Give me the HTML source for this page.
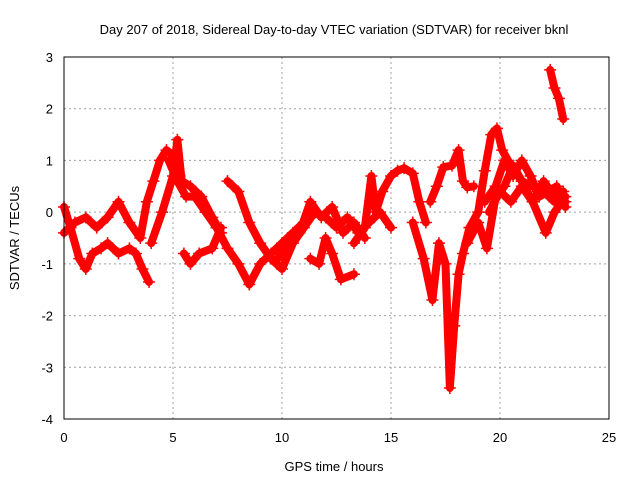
<!DOCTYPE html>
<html><head><meta charset="utf-8"><style>
body{margin:0;background:#fff;}
svg text{font-family:"Liberation Sans",sans-serif;font-size:13px;fill:#000;}
</style></head><body>
<svg id="chart" width="640" height="480">
<text x="334" y="34" text-anchor="middle">Day 207 of 2018, Sidereal Day-to-day VTEC variation (SDTVAR) for receiver bknl</text>
<text x="334" y="471" text-anchor="middle">GPS time / hours</text>
<text transform="translate(19,238) rotate(-90)" text-anchor="middle">SDTVAR / TECUs</text>
<g id="grid"></g><g id="ticks"></g><g id="marks"></g>
<rect x="64" y="57" width="545" height="362" fill="none" stroke="#000" stroke-width="1"/>
</svg>
<script>
const xTicks=[0,5,10,15,20,25];
const yTicks=[3,2,1,0,-1,-2,-3,-4];
const trackTimes=[
[0,0.3,0.7,1.0,1.3,1.7,2.0,2.5,3.0,3.3,3.6,3.9],
[0,0.5,1.0,1.5,2.0,2.5,3.0,3.5,3.8,4.1,4.4,4.7,5.0,5.3],
[4.0,4.5,5.0,5.2,5.4,5.8,6.3,6.8,7.2],
[4.8,5.2,5.6,6.0,6.5,7.0,7.5,8.0,8.5,9.0,9.5,10,10.5,11],
[5.5,5.8,6.2,6.8,7.2],
[7.5,8.0,8.5,9,9.5,10,10.5,11,11.5,12,12.5,13,13.5,14,14.5,15],
[11.3,11.7,12.0,12.3,12.7,13.3],
[13.3,13.8,14.1,14.3,14.6,15.0,15.3,15.6,16.0,16.3,16.6],
[16.0,16.5,16.9,17.2,17.5,17.7,17.9,18.1,18.3,18.6],
[16.8,17.1,17.4,17.8,18.1,18.3,18.5,18.8],
[18.6,19.0,19.3,19.6,19.86,20.1,20.5,21.0,21.5,22.0,22.5,23.0],
[18.5,19.0,19.4,19.8,20.2,20.6,21.0,21.5,22.1,22.5,23.0],
[22.3,22.5,22.7,22.9],
[19.3,19.8,20.2,20.6,21.0,21.4,21.8,22.2,22.6,23],
[9.8,10.3,10.8,11.3,11.8,12.3,12.8,13.3,13.8],
[19.5,20.0,20.5,21.0,21.5,22.0,22.5,22.9]];
const trackValues=[
[0.1,-0.3,-0.9,-1.1,-0.8,-0.7,-0.6,-0.8,-0.7,-0.8,-1.1,-1.35],
[-0.4,-0.2,-0.1,-0.3,-0.1,0.2,-0.2,-0.5,0.2,0.6,1.0,1.2,1.1,0.7],
[-0.6,0.0,0.7,1.4,0.6,0.5,0.3,-0.1,-0.4],
[1.0,0.6,0.3,0.3,0.0,-0.3,-0.7,-1.0,-1.4,-1.0,-0.8,-0.6,-0.4,-0.2],
[-0.8,-1.0,-0.8,-0.7,-0.3],
[0.6,0.4,-0.2,-0.6,-0.9,-1.1,-0.6,-0.3,0.0,-0.1,-0.3,-0.1,-0.4,-0.2,0.0,-0.3],
[-0.9,-1.0,-0.5,-0.8,-1.3,-1.2],
[-0.6,-0.3,0.7,0.0,0.4,0.7,0.8,0.85,0.75,0.2,-0.2],
[-0.2,-0.9,-1.7,-0.6,-1.0,-3.4,-2.2,-1.2,-0.8,-0.3],
[0.2,0.5,0.87,0.9,1.2,0.6,0.48,0.5],
[-0.3,0.0,0.8,1.5,1.62,1.2,0.9,0.6,0.5,0.4,0.2,0.2],
[-0.6,-0.2,-0.7,0.3,0.5,0.9,0.6,0.2,-0.4,0.0,0.3],
[2.75,2.4,2.2,1.8],
[0.2,0.5,1.0,0.7,1.0,0.7,0.3,0.4,0.5,0.1],
[-0.9,-0.6,-0.4,0.2,-0.1,0.1,-0.4,-0.2,-0.5],
[0.0,0.4,0.2,0.5,0.2,0.6,0.3,0.4]];
const NS="http://www.w3.org/2000/svg";
const X=t=>64+t*545/25;
const Y=v=>57+(3-v)*362/7;
const grid=document.getElementById('grid'),ticks=document.getElementById('ticks'),marks=document.getElementById('marks');
function mk(tag,at,parent){const e=document.createElementNS(NS,tag);for(const k in at)e.setAttribute(k,at[k]);parent.appendChild(e);return e;}
xTicks.forEach(t=>{
 if(t>0&&t<25){const g=mk('line',{x1:X(t),x2:X(t),y1:57,y2:419,stroke:'#a0a0a0','stroke-dasharray':'2,3'},grid);
 
 }
 const l=mk('text',{x:X(t),y:442,'text-anchor':'middle'},ticks);l.textContent=t;
 
 
});
yTicks.forEach(v=>{
 if(v<3&&v>-4){const g=mk('line',{x1:64,x2:609,y1:Y(v),y2:Y(v),stroke:'#a0a0a0','stroke-dasharray':'2,3'},grid);
 
 }
 const l=mk('text',{x:53,y:Y(v)+5,'text-anchor':'end'},ticks);l.textContent=v;
 
 
});
trackTimes.forEach((ts,i)=>{
 const vs=trackValues[i];
 const pts=ts.map((t,j)=>X(t)+','+Y(vs[j])).join(' ');
 const p=mk('polyline',{points:pts,fill:'none',stroke:'#ff0000','stroke-width':8,'stroke-linejoin':'round','stroke-linecap':'round'},marks);
 
 
 ts.forEach((t,j)=>{
  const m=mk('path',{d:`M${X(t)-6},${Y(vs[j])}h12M${X(t)},${Y(vs[j])-6}v12`,stroke:'#ff0000','stroke-width':1.5},marks);
  
  
 });
});
</script>
</body></html>
